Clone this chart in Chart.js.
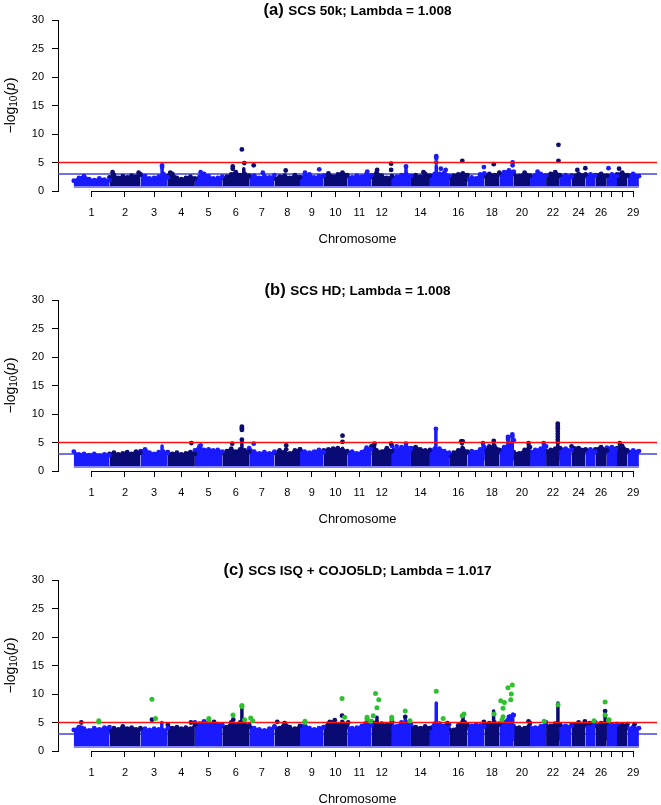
<!DOCTYPE html>
<html>
<head>
<meta charset="utf-8">
<script src="https://cdn.jsdelivr.net/npm/chart.js@4.4.0/dist/chart.umd.min.js"></script>
<style>
html,body{margin:0;padding:0;background:#fff;width:661px;height:805px;overflow:hidden;}
.panel{position:absolute;left:0;width:661px;height:280px;}
</style>
</head>
<body>
<div class="panel" style="top:0px"><canvas id="ca" width="661" height="280"></canvas></div>
<div class="panel" style="top:280px"><canvas id="cb" width="661" height="280"></canvas></div>
<div class="panel" style="top:560px"><canvas id="cc" width="661" height="280"></canvas></div>
<script>
// ---------------- DATA ----------------
const chromNames = ['1','2','3','4','5','6','7','8','9','10','11','12','13','14','15','16','17','18','19','20','21','22','23','24','25','26','27','28','29'];
const chromLengthsMb = [158,137,121,120,121,119,112,113,105,104,107,91,84,84,85,81,75,66,64,72,71,61,52,62,43,51,45,46,51];
const shownTickLabels = ['1','2','3','4','5','6','7','8','9','10','11','12','14','16','18','20','22','24','26','29'];
const yTickValues = [0,5,10,15,20,25,30];
const suggestiveLine = 3;
const significanceLine = 5;

const panelTags = ['(a)','(b)','(c)'];
const panelTitles = ['SCS 50k; Lambda = 1.008','SCS HD; Lambda = 1.008','SCS ISQ + COJO5LD; Lambda = 1.017'];

// upper envelope of the dense point cloud, per chromosome (evenly spaced along chromosome)
const envA = [
 [1.8,2.3,2.6,2.1,1.9,2.2,2.0,1.9],
 [2.4,2.8,2.3,2.6,2.4,2.7,2.5,2.9],
 [2.9,2.6,2.2,2.3,2.5,3.0,2.4],
 [2.6,3.0,2.3,2.1,2.3,2.5,2.2],
 [2.0,2.5,3.0,2.6,2.2,2.3,2.5],
 [2.3,2.5,2.9,3.3,2.8,3.0,2.7],
 [2.5,2.7,2.3,2.6,2.4,2.8],
 [2.2,2.5,2.7,2.3,2.8,2.4],
 [2.4,2.7,2.9,2.4,2.6,2.7],
 [2.6,3.1,2.5,2.9,3.2,2.8],
 [2.6,2.4,2.7,2.5,3.0,2.8],
 [2.5,3.2,2.7,2.3,2.6],
 [2.3,2.5,2.8,3.0,2.6],
 [2.6,2.8,2.5,3.0,2.7],
 [2.5,3.0,3.0,3.2,2.6],
 [2.4,2.7,2.9,3.1,2.8],
 [2.1,2.4,2.2,2.9,3.1],
 [2.6,3.0,2.8,3.2],
 [2.9,3.3,3.6,3.4],
 [3.0,2.6,3.2,2.7],
 [2.6,2.8,3.0,2.7],
 [2.7,3.0,3.3,2.8],
 [2.6,2.8,2.5],
 [2.7,3.0,2.9],
 [2.6,2.9,2.7],
 [2.8,3.0,2.7],
 [2.6,2.9,2.6],
 [2.9,3.2,2.7],
 [2.8,3.0,2.6]
];
const envB = [
 [3.4,2.9,3.0,2.8,3.0,2.7,2.9,2.8],
 [3.0,3.2,2.9,3.1,3.3,3.0,3.4,3.2],
 [3.5,3.8,3.2,3.0,3.3,3.4,3.2],
 [3.3,3.0,3.2,2.9,3.1,3.3,3.0],
 [3.6,4.3,3.7,3.8,3.6,3.7,3.4],
 [3.2,3.5,3.9,3.4,3.8,3.6,3.4],
 [4.0,3.4,3.1,3.3,3.1,3.4],
 [3.2,3.6,3.3,3.1,3.6,3.8],
 [3.8,3.4,3.2,3.4,3.7,3.3],
 [3.6,3.8,3.9,4.0,3.7,3.5],
 [3.2,3.4,3.1,3.3,4.1,3.8],
 [4.3,3.6,3.4,4.0,3.5],
 [4.4,3.6,4.2,4.3,3.9],
 [4.0,4.2,3.8,3.6,3.7],
 [3.5,3.9,3.9,3.5,3.2],
 [2.8,3.2,3.6,3.9,3.4],
 [3.2,3.5,3.3,3.8,4.2],
 [3.6,4.3,4.4,3.7],
 [3.4,4.2,4.8,5.4],
 [3.3,3.1,3.7,4.2],
 [3.4,3.7,3.9,4.3],
 [3.5,3.7,3.9,4.0],
 [4.0,3.9,3.7],
 [4.3,4.0,3.8],
 [3.6,3.8,3.4],
 [3.8,4.2,3.6],
 [4.1,4.2,3.8],
 [4.0,4.4,3.6],
 [3.4,3.6,3.5]
];
const envC = [
 [3.7,4.2,3.9,3.6,4.0,3.8,4.1,4.2],
 [3.6,4.0,3.8,4.3,3.9,4.1,3.8,4.0],
 [3.8,3.9,3.7,3.9,3.8,3.6,4.0],
 [4.6,4.0,4.2,3.9,4.1,3.9,4.6],
 [5.0,4.8,5.2,4.9,4.6,4.7,4.6],
 [4.4,4.2,5.0,4.5,5.0,4.6,4.3],
 [4.6,4.0,3.8,3.6,3.9,4.2],
 [4.3,4.0,4.9,4.2,3.9,4.4],
 [4.3,4.6,4.0,3.8,4.0,4.2],
 [4.2,4.8,5.0,4.6,5.0,4.6],
 [4.2,4.0,4.1,4.4,5.0,4.5],
 [5.2,5.0,4.8,4.6,5.2],
 [4.6,4.3,5.0,5.0,4.6],
 [4.4,4.2,4.0,4.3,4.0],
 [4.0,4.8,4.8,4.4,4.6],
 [3.8,3.7,4.5,5.2,4.6],
 [4.0,4.4,4.6,4.5,4.3],
 [4.6,4.9,5.0,4.8],
 [4.6,5.0,6.0,6.3],
 [4.3,4.1,4.0,4.9],
 [4.2,4.1,4.3,5.0],
 [4.5,4.4,4.8,4.6],
 [4.6,4.4,4.4],
 [4.6,5.0,4.8],
 [4.5,4.6,5.0],
 [4.4,4.9,5.0],
 [4.8,4.6,4.7],
 [4.7,4.6,4.7],
 [4.0,4.2,4.0]
];

// narrow dense columns of SNPs: [chromosome, fraction along chromosome, top]
const spikesA = [[3,0.79,4.0],[6,0.80,3.9],[13,0.74,4.1],[15,0.33,4.4]];
const spikesB = [[3,0.79,4.4],[6,0.73,5.3],[10,0.80,4.0],[12,0.15,4.6],[15,0.31,7.2],[16,0.72,4.2],[17,0.92,4.7],[18,0.63,5.0],[19,0.60,5.8],[19,0.90,6.2],[20,0.91,4.7],[21,0.85,4.7],[22,0.85,4.6],[28,0.26,4.7]];
const spikesC = [[3,0.78,5.0],[5,0.50,5.3],[6,0.73,7.6],[10,0.78,5.2],[12,0.27,5.9],[13,0.70,5.6],[15,0.33,8.4],[16,0.76,6.0],[18,0.62,7.0],[19,0.75,6.2],[19,0.93,6.5],[22,0.86,8.4],[26,0.85,6.6]];

// isolated points: [chromosome, fraction along chromosome, -log10(p), colour key]
const peaksA = [
 [2,0.10,3.3,'d'],[2,0.10,2.6,'d'],[2,0.94,3.2,'d'],
 [3,0.79,4.5,'b'],[3,0.79,4.2,'b'],
 [4,0.09,3.2,'d'],[5,0.21,3.3,'b'],
 [6,0.39,4.3,'d'],[6,0.39,3.9,'d'],[6,0.73,7.3,'d'],[6,0.82,4.9,'d'],
 [7,0.18,4.5,'d'],[7,0.54,3.2,'b'],[8,0.44,3.6,'d'],
 [9,0.21,3.2,'b'],[9,0.81,3.8,'b'],[11,0.83,3.4,'b'],
 [12,0.28,3.7,'d'],[12,0.96,4.8,'d'],[12,0.96,3.7,'d'],
 [13,0.74,4.3,'b'],[14,0.66,3.3,'d'],
 [15,0.33,6.1,'b'],[15,0.33,5.8,'b'],[15,0.33,5.0,'b'],[15,0.57,3.9,'b'],[15,0.82,3.7,'b'],
 [16,0.72,5.3,'d'],[17,0.97,4.2,'b'],[18,0.63,4.7,'d'],
 [19,0.92,5.0,'b'],[19,0.92,4.5,'b'],[21,0.47,3.4,'b'],
 [22,0.90,8.1,'d'],[22,0.90,5.3,'d'],
 [24,0.41,3.7,'d'],[24,0.98,4.0,'d'],[27,0.16,4.0,'b'],[28,0.20,3.9,'d']
];
const peaksB = [
 [4,0.87,4.9,'d'],[5,0.21,4.5,'b'],
 [6,0.37,4.8,'d'],[6,0.73,7.8,'d'],[6,0.73,7.5,'d'],[6,0.73,7.2,'d'],[6,0.73,5.5,'d'],
 [7,0.18,4.8,'b'],[8,0.46,4.5,'d'],[8,0.46,3.8,'d'],
 [10,0.80,6.2,'d'],[10,0.80,5.1,'d'],
 [12,0.15,4.8,'d'],[12,0.96,4.8,'d'],[13,0.25,4.3,'b'],[13,0.74,4.8,'b'],
 [15,0.31,7.4,'b'],
 [16,0.66,5.2,'d'],[16,0.70,5.2,'d'],[16,0.74,5.2,'d'],[16,0.70,4.9,'d'],
 [17,0.92,4.9,'b'],[18,0.63,5.3,'d'],
 [19,0.60,6.0,'b'],[19,0.60,5.6,'b'],[19,0.90,6.4,'b'],[19,0.90,6.1,'b'],
 [20,0.91,4.9,'d'],[21,0.85,4.9,'b'],
 [22,0.85,8.3,'d'],[22,0.85,7.9,'d'],[22,0.85,7.5,'d'],[22,0.85,7.0,'d'],[22,0.85,6.5,'d'],[22,0.85,6.0,'d'],[22,0.85,5.5,'d'],[22,0.85,5.0,'d'],
 [28,0.26,4.9,'d']
];
const peaksC = [
 [1,0.21,5.0,'d'],[1,0.21,4.1,'b'],[1,0.70,5.3,'g'],[1,0.70,5.1,'g'],
 [3,0.42,5.5,'d'],[3,0.42,9.1,'g'],[3,0.55,5.7,'g'],
 [4,0.85,5.0,'d'],
 [5,0.51,5.7,'g'],[5,0.51,5.5,'g'],[5,0.70,5.1,'d'],
 [6,0.40,6.3,'g'],[6,0.41,5.5,'d'],[6,0.73,8.0,'g'],[6,0.73,7.8,'g'],[6,0.83,5.5,'g'],
 [7,0.06,5.8,'g'],[7,0.14,5.3,'g'],[8,0.11,5.1,'d'],
 [9,0.21,5.2,'g'],[9,0.21,5.0,'g'],
 [10,0.26,5.1,'d'],[10,0.47,5.4,'d'],[10,0.78,6.2,'d'],[10,0.78,9.2,'g'],[10,0.89,5.9,'g'],
 [11,0.04,5.0,'d'],[11,0.82,5.9,'g'],[11,0.82,5.6,'g'],[11,0.97,5.2,'g'],
 [12,0.20,10.1,'g'],[12,0.36,9.0,'g'],[12,0.27,7.6,'g'],[12,0.09,6.2,'g'],[12,0.99,5.9,'g'],[12,0.99,5.6,'g'],
 [13,0.70,7.0,'g'],[13,0.70,6.0,'d'],[13,0.95,5.3,'g'],
 [15,0.33,10.5,'g'],[15,0.69,5.7,'g'],[15,0.91,4.9,'d'],
 [16,0.71,6.2,'g'],[16,0.81,6.5,'g'],[16,0.85,5.0,'d'],
 [17,0.97,5.1,'d'],[18,0.65,6.5,'g'],
 [19,0.10,8.8,'g'],[19,0.35,8.5,'g'],[19,0.26,7.5,'g'],[19,0.26,6.0,'g'],[19,0.19,5.5,'g'],
 [19,0.60,11.1,'g'],[19,0.90,11.6,'g'],[19,0.83,10.0,'g'],[19,0.79,9.0,'g'],
 [20,0.91,5.2,'d'],[21,0.88,5.2,'g'],[22,0.87,8.1,'g'],
 [24,0.95,5.2,'d'],[25,0.44,4.9,'d'],[25,0.87,5.3,'g'],
 [26,0.85,7.0,'d'],[26,0.85,6.2,'d'],[26,0.85,8.6,'g'],[26,0.85,6.3,'g'],
 [27,0.16,5.4,'g'],[27,0.22,5.5,'g'],[29,0.62,4.7,'d']
];

// ---------------- STYLE / LAYOUT ----------------
const FONT = '"Liberation Sans", Arial, Helvetica, sans-serif';
const BLUE = '#1a1aff';
const NAVY = '#0a0a74';
const POINT_COL = {d:'#0c0c6e', b:'#1c1cf0', g:'#2fc02f'};
const RED = '#ff1010';
const THRESH_BLUE = '#4545d5';
const EDGE_BLUE = '#8282ff';
const BLOB_BASE = 0.85;
const BLOB_EDGE = 0.72;
const SPIKE_BASE = 2.0;
const X_MIN = -70, X_MAX = 2581;

const chromStartsMb = chromLengthsMb.reduce((acc, len, i) => { acc.push(i === 0 ? 0 : acc[i-1] + chromLengthsMb[i-1]); return acc; }, []);
const chromCentersMb = chromStartsMb.map((s, i) => s + chromLengthsMb[i] / 2);
const genomeEndMb = chromStartsMb[chromStartsMb.length-1] + chromLengthsMb[chromLengthsMb.length-1];
const posOf = (chr, frac) => chromStartsMb[chr-1] + frac * chromLengthsMb[chr-1];
const chromColour = i => (i % 2 === 0 ? BLUE : NAVY);

const panelDecor = {
  id: 'panelDecor',
  afterDraw(chart, args, opts) {
    const {ctx, chartArea, scales} = chart;
    const xs = scales.x;
    ctx.save();
    // x axis line from first to last chromosome tick (R style)
    ctx.strokeStyle = '#000';
    ctx.lineWidth = 1;
    const yAx = Math.round(chartArea.bottom) + 0.5;
    ctx.beginPath();
    ctx.moveTo(xs.getPixelForValue(chromCentersMb[0]), yAx);
    ctx.lineTo(xs.getPixelForValue(chromCentersMb[chromCentersMb.length-1]), yAx);
    ctx.stroke();
    // main title
    ctx.fillStyle = '#000';
    ctx.textBaseline = 'alphabetic';
    ctx.textAlign = 'left';
    const tagFont = 'bold 16.5px ' + FONT;
    const txtFont = 'bold 13.5px ' + FONT;
    ctx.font = tagFont;
    const w1 = ctx.measureText(opts.tag + ' ').width;
    ctx.font = txtFont;
    const w2 = ctx.measureText(opts.text).width;
    const cx = (chartArea.left + chartArea.right) / 2;
    const x0 = cx - (w1 + w2) / 2;
    ctx.font = tagFont;
    ctx.fillText(opts.tag, x0, 14.5);
    ctx.font = txtFont;
    ctx.fillText(opts.text, x0 + w1, 14.5);
    // y axis label: -log10(p)
    const parts = [
      {t:'\u2212log', f:'14px ' + FONT, dy:0},
      {t:'10', f:'10px ' + FONT, dy:3.5},
      {t:'(', f:'15.5px ' + FONT, dy:0},
      {t:'p', f:'italic 14px ' + FONT, dy:0},
      {t:')', f:'15.5px ' + FONT, dy:0}
    ];
    let total = 0;
    parts.forEach(p => { ctx.font = p.f; p.w = ctx.measureText(p.t).width; total += p.w; });
    ctx.translate(11, (chartArea.top + chartArea.bottom) / 2);
    ctx.rotate(-Math.PI / 2);
    ctx.textBaseline = 'middle';
    let px = -total / 2;
    parts.forEach(p => { ctx.font = p.f; ctx.fillText(p.t, px, p.dy); px += p.w; });
    ctx.restore();
  }
};

function buildPanel(canvasId, tag, text, env, spikes, peaks) {
  const ds = [];
  ds.push({type:'line', data:[{x:X_MIN, y:suggestiveLine},{x:X_MAX, y:suggestiveLine}],
           borderColor:THRESH_BLUE, borderWidth:1.5, pointRadius:0, fill:false, order:20});
  env.forEach((vals, i) => {
    const col = chromColour(i);
    const n = vals.length;
    const data = vals.map((v, j) => ({x: chromStartsMb[i] + chromLengthsMb[i] * j / (n - 1), y: v}));
    ds.push({type:'line', data, fill:{value:BLOB_BASE}, backgroundColor:col, borderColor:col,
             borderWidth:2, pointRadius:2.4, pointBackgroundColor:col, pointBorderWidth:0,
             cubicInterpolationMode:'monotone', order:10});
  });
  ds.push({type:'line', data:[{x:0, y:BLOB_EDGE},{x:genomeEndMb, y:BLOB_EDGE}],
           borderColor:EDGE_BLUE, borderWidth:2, pointRadius:0, fill:false, order:9});
  spikes.forEach(s => {
    const col = chromColour(s[0] - 1);
    const x = posOf(s[0], s[1]);
    ds.push({type:'line', data:[{x, y:SPIKE_BASE},{x, y:s[2]}], borderColor:col, borderWidth:3.5,
             borderCapStyle:'round', pointRadius:0, fill:false, order:8});
  });
  ['d','b'].forEach(k => {
    ds.push({type:'scatter', data: peaks.filter(p => p[3] === k).map(p => ({x:posOf(p[0], p[1]), y:p[2]})),
             backgroundColor:POINT_COL[k], borderWidth:0, pointRadius:2.4, order:6});
  });
  ds.push({type:'line', data:[{x:X_MIN, y:significanceLine},{x:X_MAX, y:significanceLine}],
           borderColor:RED, borderWidth:1.5, pointRadius:0, fill:false, order:4});
  ds.push({type:'scatter', data: peaks.filter(p => p[3] === 'g').map(p => ({x:posOf(p[0], p[1]), y:p[2]})),
           backgroundColor:POINT_COL.g, borderWidth:0, pointRadius:2.5, order:1});

  const axisGrid = {display:true, drawOnChartArea:false, drawTicks:true, tickLength:6, tickColor:'#000', tickWidth:1};
  return new Chart(document.getElementById(canvasId), {
    type:'scatter',
    data:{datasets:ds},
    options:{
      responsive:false, animation:false, devicePixelRatio:1, events:[],
      layout:{padding:{top:20, right:0, bottom:0, left:0}},
      plugins:{legend:{display:false}, tooltip:{enabled:false}, title:{display:false},
               panelDecor:{tag, text}},
      scales:{
        x:{type:'linear', min:X_MIN, max:X_MAX,
           afterBuildTicks: s => { s.ticks = chromCentersMb.map(v => ({value:v})); },
           afterFit: s => { s.height = 89; },
           ticks:{autoSkip:false, maxRotation:0, minRotation:0, padding:9, color:'#000',
                  font:{family:FONT, size:11},
                  callback:(val, idx) => shownTickLabels.includes(chromNames[idx]) ? chromNames[idx] : ''},
           grid:axisGrid, border:{display:false},
           title:{display:true, text:'Chromosome', color:'#000', font:{family:FONT, size:13}, padding:{top:0, bottom:33}}},
        y:{type:'linear', min:0, max:30,
           afterBuildTicks: s => { s.ticks = yTickValues.map(v => ({value:v})); },
           afterFit: s => { s.width = 58; },
           ticks:{padding:8, color:'#000', font:{family:FONT, size:11}},
           grid:axisGrid, border:{display:true, color:'#000', width:1}}
      }
    },
    plugins:[panelDecor]
  });
}

buildPanel('ca', panelTags[0], panelTitles[0], envA, spikesA, peaksA);
buildPanel('cb', panelTags[1], panelTitles[1], envB, spikesB, peaksB);
buildPanel('cc', panelTags[2], panelTitles[2], envC, spikesC, peaksC);
</script>
</body>
</html>
